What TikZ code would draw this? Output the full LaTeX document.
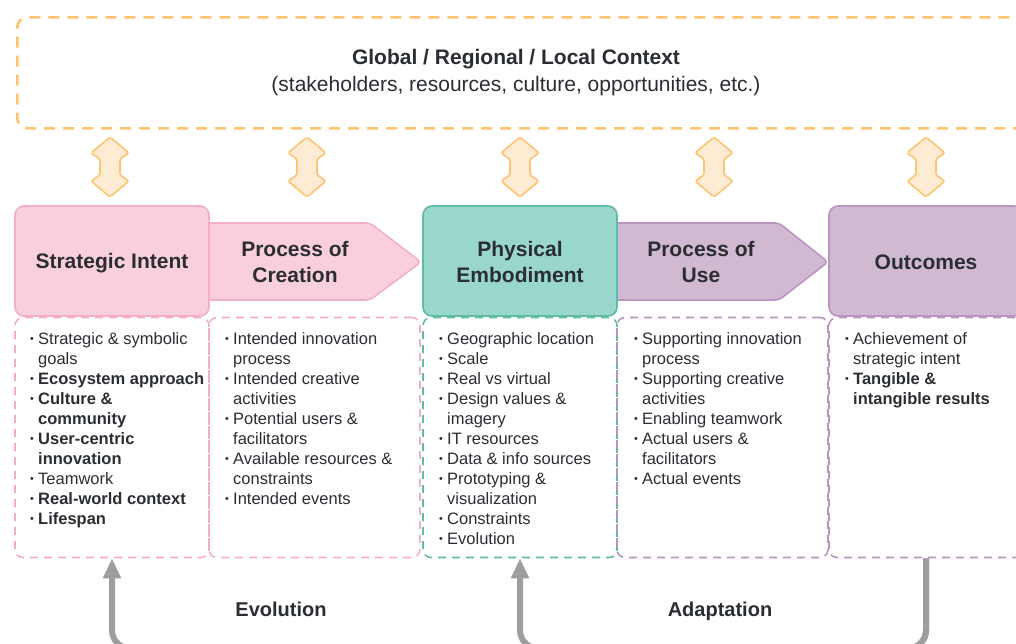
\documentclass[tikz,border=0pt]{standalone}
\usepackage{fontspec}
\setmainfont{Liberation Sans}
\usetikzlibrary{arrows.meta}
\definecolor{txt}{HTML}{2A2E33}
\definecolor{pinkfill}{HTML}{F9CFDC}
\definecolor{pinkline}{HTML}{F4AFC5}
\definecolor{tealfill}{HTML}{99D6CB}
\definecolor{tealline}{HTML}{5FBDA6}
\definecolor{purpfill}{HTML}{D2B9D2}
\definecolor{purpline}{HTML}{BA95C2}
\definecolor{orgline}{HTML}{FEC471}
\definecolor{orgfill}{HTML}{FDEBD3}
\definecolor{grayarr}{HTML}{9E9E9E}
\newcommand{\itm}[1]{\par\hangindent=8pt\hangafter=1\noindent\makebox[8pt][l]{\raisebox{0.12em}{\scalebox{0.65}{•}}}{#1}}
\newcommand{\blist}[1]{\parbox[t]{185pt}{\fontsize{16.5}{20}\selectfont\raggedright\let\\\newline #1}}
\tikzset{
  hdrbox/.style={draw, line width=1.6pt, rounded corners=9pt, minimum width=194pt, minimum height=110pt, inner sep=0pt},
  hdrtext/.style={font=\fontsize{21}{26}\selectfont\bfseries, text=txt, align=center, inner sep=0pt},
  lowbox/.style={draw, line width=1.6pt, dash pattern=on 8pt off 6pt, rounded corners=8pt, minimum height=240pt, inner sep=0pt, fill=none},
  ctxbox/.style={draw=orgline, line width=2.6pt, dash pattern=on 11pt off 8pt, rounded corners=10pt, inner sep=0pt},
  darr/.pic={\draw[draw=orgline, fill=orgfill, line width=1.6pt, rounded corners=2.5pt]
     (0,-30) -- (19,-14) -- (10,-8) -- (10,8) -- (19,14) -- (0,30) -- (-19,14) -- (-10,8) -- (-10,-8) -- (-19,-14) -- cycle;},
  grayline/.style={draw=grayarr, line width=6pt, rounded corners=18pt, -{Triangle[width=17pt,length=20pt]}},
  botlabel/.style={font=\fontsize{20}{24}\selectfont\bfseries, text=txt, inner sep=0pt, anchor=base},
  listnode/.style={anchor=base west, inner sep=0pt, text=txt}
}
\begin{document}
\begin{tikzpicture}[x=1pt,y=-1pt]
\clip (0,0) rectangle (1016,643);
\fill[white] (0,0) rectangle (1016,643);
% context
\node[ctxbox, minimum width=1040pt, minimum height=111pt, anchor=north west] (ctx) at (16,16) {};
\node[font=\fontsize{21}{27}\selectfont, text=txt, align=center, inner sep=0pt] (ctxt) at (516,73)
  {\textbf{Global / Regional / Local Context}\\(stakeholders, resources, culture, opportunities, etc.)};
% double arrows
\pic at (110,167) {darr};
\pic at (307,167) {darr};
\pic at (520,167) {darr};
\pic at (714,167) {darr};
\pic at (926,167) {darr};
% pentagons
\draw[draw=pinkline, fill=pinkfill, line width=1.6pt, rounded corners=4pt]
  (200,223) -- (370,223) -- (421,262) -- (370,300) -- (200,300) -- cycle;
\draw[draw=purpline, fill=purpfill, line width=1.6pt, rounded corners=4pt]
  (610,223) -- (779,223) -- (828,262) -- (779,300) -- (610,300) -- cycle;
% header boxes
\node[hdrbox, draw=pinkline, fill=pinkfill] (si) at (112,261) {};
\node[hdrbox, draw=tealline, fill=tealfill] (pe) at (520,261) {};
\node[hdrbox, draw=purpline, fill=purpfill] (oc) at (926,261) {};
\node[hdrtext] (sit) at (112,263.5) {Strategic Intent};
\node[hdrtext] (poct) at (295,262) {Process of\\Creation};
\node[hdrtext] (pet) at (520,262) {Physical\\Embodiment};
\node[hdrtext] (pout) at (701,262) {Process of\\Use};
\node[hdrtext] (oct) at (926,262) {Outcomes};
% lower boxes
\node[lowbox, draw=pinkline, minimum width=194pt] (b1) at (112,437.5) {};
\node[lowbox, draw=pinkline, minimum width=211pt] (b2) at (314.5,437.5) {};
\node[lowbox, draw=tealline, minimum width=194pt] (b3) at (520,437.5) {};
\node[lowbox, draw=purpline, minimum width=211pt] (b4) at (722.5,437.5) {};
\node[lowbox, draw=purpline, minimum width=194pt] (b5) at (926,437.5) {};
% lists
\node[listnode] (l1) at (30,344) {\blist{%
\itm{Strategic \& symbolic\\goals}
\itm{\bfseries Ecosystem approach}
\itm{\bfseries Culture \&\\community}
\itm{\bfseries User-centric\\innovation}
\itm{Teamwork}
\itm{\bfseries Real-world context}
\itm{\bfseries Lifespan}}};
\node[listnode] (l2) at (225,344) {\blist{%
\itm{Intended innovation\\process}
\itm{Intended creative\\activities}
\itm{Potential users \&\\facilitators}
\itm{Available resources \&\\constraints}
\itm{Intended events}}};
\node[listnode] (l3) at (439,344) {\blist{%
\itm{Geographic location}
\itm{Scale}
\itm{Real vs virtual}
\itm{Design values \&\\imagery}
\itm{IT resources}
\itm{Data \& info sources}
\itm{Prototyping \&\\visualization}
\itm{Constraints}
\itm{Evolution}}};
\node[listnode] (l4) at (634,344) {\blist{%
\itm{Supporting innovation\\process}
\itm{Supporting creative\\activities}
\itm{Enabling teamwork}
\itm{Actual users \&\\facilitators}
\itm{Actual events}}};
\node[listnode] (l5) at (845,344) {\blist{%
\itm{Achievement of\\strategic intent}
\itm{\bfseries Tangible \&\\intangible results}}};
% feedback loops
\draw[grayline] (b5.south) -- ++(0,90) -| (b1.south);
\draw[grayline] (b5.south) -- ++(0,90) -| (b3.south);
\node[botlabel] (evo) at (281,616) {Evolution};
\node[botlabel] (ada) at (720,616) {Adaptation};
\end{tikzpicture}
\end{document}
